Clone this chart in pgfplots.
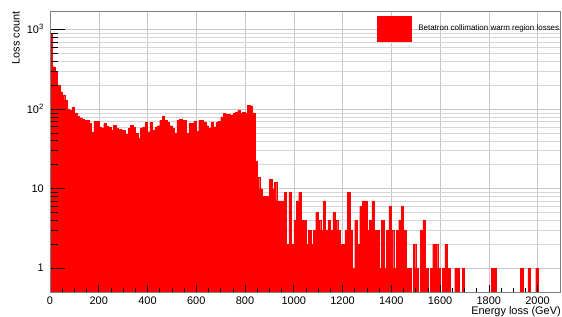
\documentclass[border=0pt]{standalone}
\usepackage{fontspec}
\setmainfont{Liberation Sans}
\usepackage{pgfplots}
\pgfplotsset{compat=1.18}
\pgfplotsset{
 layers/rootlayers/.define layer set={axis background,axis grid,main,axis ticks,axis lines,axis tick labels,axis descriptions,axis foreground}{
  grid style={/pgfplots/on layer=axis grid},
  tick style={/pgfplots/on layer=axis ticks},
  axis line style={/pgfplots/on layer=axis lines},
  label style={/pgfplots/on layer=axis descriptions},
  legend style={/pgfplots/on layer=axis descriptions},
  title style={/pgfplots/on layer=axis descriptions},
  colorbar style={/pgfplots/on layer=axis descriptions},
  ticklabel style={/pgfplots/on layer=axis tick labels},
  axis background@ style={/pgfplots/on layer=axis background},
  3d box foreground style={/pgfplots/on layer=axis foreground},
 },
}
\begin{document}
\begin{tikzpicture}
\begin{axis}[
 set layers=rootlayers,
 at={(0,0)}, anchor=south west,
 scale only axis, width=510bp, height=281bp,
 xmin=0, xmax=2092, ymode=log, ymin=0.5, ymax=1720,
 log origin=infty,
 enlargelimits=false,
 xtick={0,200,...,2000},
 xticklabels={0,200,400,600,800,1000,1200,1400,1600,1800,2000},
 minor x tick num=3,
 ytick={1,10,100,1000},
 yticklabels={1,10,10\textsuperscript{2},10\textsuperscript{3}},
 xtick pos=left, ytick pos=left,
 tick align=inside,
 xtick style={black, line width=0.6bp, /pgfplots/major tick length=7.3bp, /pgfplots/minor tick length=4bp},
 ytick style={black, line width=0.6bp, /pgfplots/major tick length=15bp, /pgfplots/minor tick length=7.7bp},
 xmajorgrids, ymajorgrids, yminorgrids,
 major grid style={black!22, line width=0.5bp},
 minor grid style={black!16, line width=0.5bp},
 axis line style={black!50, line width=0.7bp},
 xticklabel style={font=\fontsize{11}{13}\selectfont, inner sep=0pt, anchor=north, yshift=-4.5bp},
 yticklabel style={font=\fontsize{11}{13}\selectfont, inner sep=0pt, anchor=base east, xshift=-6bp, yshift=-3.9bp},
 legend style={at={(0.641,0.938)}, anchor=west, draw=none, fill=none, inner sep=0pt, column sep=7bp, font=\fontsize{8}{9}\selectfont, nodes={inner sep=0pt}},
 legend cell align=left,
]
\addplot[ybar, bar width=10, bar shift=0pt, fill=red, draw=red, line width=0.2bp,
 legend image code/.code={\fill[red] (0bp,-12.5bp) rectangle (34bp,12.5bp);}]
coordinates {
(5,900) (15,343) (25,297) (35,202) (45,166) (55,151) (65,131) (75,101) (85,96) (95,106)
(105,90) (115,82) (125,78) (135,74) (145,72) (155,72) (165,66) (175,51) (185,70) (195,70)
(205,60) (215,58) (225,66) (235,61) (245,60) (255,55) (265,63) (275,58) (285,56) (295,55)
(305,54) (315,48) (325,57) (335,63) (345,60) (355,50) (365,43) (375,58) (385,60) (395,68)
(405,52) (415,68) (425,54) (435,60) (445,62) (455,73) (465,82) (475,73) (485,68) (495,62)
(505,58) (515,50) (525,73) (535,74) (545,73) (555,72) (565,50) (575,67) (585,66) (595,71)
(605,53) (615,72) (625,72) (635,69) (645,62) (655,58) (665,69) (675,60) (685,68) (695,70)
(705,80) (715,89) (725,87) (735,86) (745,83) (755,88) (765,92) (775,96) (785,88) (795,92)
(805,90) (815,112) (825,110) (835,90) (845,22) (855,14) (865,10) (875,8) (885,8) (895,8)
(905,13) (915,10) (925,12) (935,7) (945,7) (955,7) (965,9) (975,2) (985,9) (995,2)
(1005,4) (1015,7) (1025,9) (1035,4) (1045,4) (1055,2) (1065,3) (1075,2) (1085,3) (1095,5)
(1105,4) (1115,3) (1125,7) (1135,3) (1145,4) (1155,3) (1165,5) (1175,4) (1185,3) (1195,2)
(1205,2) (1215,3) (1225,9) (1235,3) (1245,1) (1255,4) (1265,2) (1275,6) (1285,7) (1295,7)
(1305,3) (1315,4) (1325,7) (1335,3) (1345,3) (1355,1) (1365,4) (1375,1) (1385,3) (1395,6)
(1405,3) (1415,1) (1425,3) (1435,4) (1445,6) (1455,3) (1465,1) (1475,1) (1495,2)
(1505,1) (1525,3) (1535,4) (1545,1) (1565,1) (1575,2) (1585,2) (1595,1)
(1615,1) (1625,2) (1635,1) (1665,1) (1675,1) (1695,1)
(1815,1) (1825,1) (1935,1) (1965,1) (1997,1)
};
\addlegendentry{Betatron collimation warm region losses}
\end{axis}
\node[rotate=90, anchor=south east, inner sep=0pt, font=\fontsize{11}{13}\selectfont] at (-30bp,281bp) {Loss count};
\node[anchor=north east, inner sep=0pt, font=\fontsize{11}{13}\selectfont] at (511bp,-14bp) {Energy loss (GeV)};
\pgfresetboundingbox
\useasboundingbox (-50bp,-25bp) rectangle (512bp,292bp);
\end{tikzpicture}
\end{document}
